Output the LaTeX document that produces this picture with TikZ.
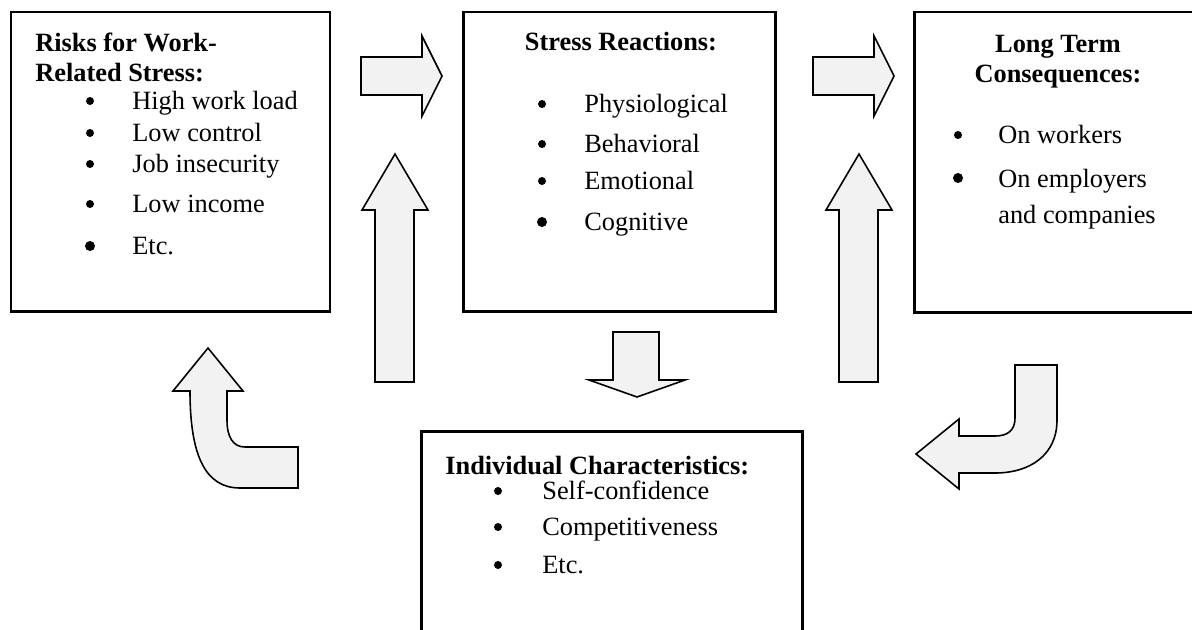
\documentclass[tikz,border=0pt]{standalone}
\usepackage{fontspec}
\setmainfont{Liberation Serif}
\usetikzlibrary{fit}
\definecolor{arrowgray}{RGB}{242,242,242}

\begin{document}
\begin{tikzpicture}[x=0.02cm,y=-0.02cm,
    box/.style={draw,line width=1.7pt,inner sep=0pt},
    heading/.style={font=\fontsize{15}{18}\selectfont\bfseries,inner sep=0pt},
    item/.style={font=\fontsize{15}{18}\selectfont,inner sep=0pt,anchor=base west},
    bullet/.style={circle,fill,inner sep=0pt,minimum size=0.16cm},
    bigbullet/.style={circle,fill,inner sep=0pt,minimum size=0.2cm},
    blockarrow/.style={draw,fill=arrowgray,line width=0.9pt,line join=miter}]
      \useasboundingbox (0,0) rectangle (1192,629);
      \clip (0,0) rectangle (1192,629);

      % boxes
      \node[box,fit={(11,12) (330,311)}] (risks) {};
      \node[box,fit={(463,12) (775,311)}] (reactions) {};
      \node[box,fit={(914,12) (1215,312)}] (consequences) {};
      \node[box,fit={(421,431) (802,660)}] (individual) {};

      % risks
      \node[heading,anchor=base west] (risksH1) at (35,51) {Risks for Work-};
      \node[heading,anchor=base west] (risksH2) at (35,81) {Related Stress:};
      \node[bullet] (risksB1) at (90,101) {};
      \node[bullet] (risksB2) at (90,133) {};
      \node[bullet] (risksB3) at (90,164) {};
      \node[bullet] (risksB4) at (90,204) {};
      \node[bigbullet] (risksB5) at (90,246) {};
      \node[item] (risksI1) at (132,109) {High work load};
      \node[item] (risksI2) at (132,141) {Low control};
      \node[item] (risksI3) at (132,172) {Job insecurity};
      \node[item] (risksI4) at (132,212) {Low income};
      \node[item] (risksI5) at (132,254) {Etc.};

      % reactions
      \node[heading,anchor=base] (reactionsH1) at (621,50) {Stress Reactions:};
      \node[bullet] (reactionsB1) at (542,104) {};
      \node[bullet] (reactionsB2) at (542,144) {};
      \node[bullet] (reactionsB3) at (542,181) {};
      \node[bigbullet] (reactionsB4) at (542,222) {};
      \node[item] (reactionsI1) at (584,112) {Physiological};
      \node[item] (reactionsI2) at (584,152) {Behavioral};
      \node[item] (reactionsI3) at (584,189) {Emotional};
      \node[item] (reactionsI4) at (584,230) {Cognitive};

      % consequences
      \node[heading,anchor=base] (consequencesH1) at (1058,52) {Long Term};
      \node[heading,anchor=base] (consequencesH2) at (1058,82) {Consequences:};
      \node[bullet] (consequencesB1) at (958,135) {};
      \node[bigbullet] (consequencesB2) at (958,178) {};
      \node[item] (consequencesI1) at (998,143) {On workers};
      \node[item] (consequencesI2) at (998,187) {On employers};
      \node[item] (consequencesI3) at (998,223) {and companies};

      % individual
      \node[heading,anchor=base west] (individualH1) at (445,474) {Individual Characteristics:};
      \node[bullet] (individualB1) at (498,491) {};
      \node[bullet] (individualB2) at (498,527) {};
      \node[bullet] (individualB3) at (498,565) {};
      \node[item] (individualI1) at (542,499) {Self-confidence};
      \node[item] (individualI2) at (542,535) {Competitiveness};
      \node[item] (individualI3) at (542,573) {Etc.};

      % right arrows
      \draw[blockarrow] (361,57) -- (422,57) -- (422,36) -- (442,76) -- (422,116) -- (422,95) -- (361,95) -- cycle;
      \draw[blockarrow] (813,57) -- (874,57) -- (874,36) -- (894,76) -- (874,116) -- (874,95) -- (813,95) -- cycle;

      % up arrows
      \draw[blockarrow] (375,382) -- (375,210) -- (362,210) -- (395,154) -- (428,210) -- (414,210) -- (414,382) -- cycle;
      \draw[blockarrow] (839,382) -- (839,210) -- (826,210) -- (859,154) -- (892,210) -- (878,210) -- (878,382) -- cycle;

      % down arrow
      \draw[blockarrow] (613,332) -- (659,332) -- (659,380) -- (685,380) -- (637,397) -- (589,380) -- (613,380) -- cycle;

      % bent arrows
      \draw[blockarrow] (298,447) -- (245,447) .. controls (233,447) and (227,437) .. (227,420) -- (227,391) -- (243,391) -- (208,348) -- (173,391) -- (190,391) .. controls (190,455) and (205,488) .. (240,488) -- (298,488) -- cycle;
      \draw[blockarrow] (1015,365) -- (1057,365) -- (1057,420) .. controls (1057,455) and (1030,473) .. (995,473) -- (959,473) -- (959,489) -- (916,454) -- (959,419) -- (959,436) -- (995,436) .. controls (1008,436) and (1015,430) .. (1015,418) -- cycle;

    \end{tikzpicture}
\end{document}
